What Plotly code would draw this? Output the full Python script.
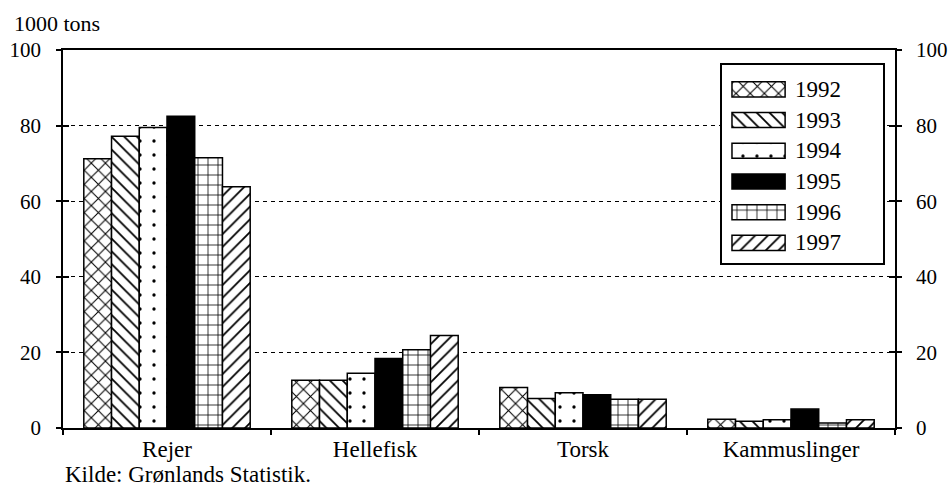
import plotly.graph_objects as go

# Landings by species, 1000 tons
categories = ["Rejer", "Hellefisk", "Torsk", "Kammuslinger"]
years = [1992, 1993, 1994, 1995, 1996, 1997]
values = {
    1992: [71.2, 12.6, 10.7, 2.3],
    1993: [77.2, 12.6, 7.8, 1.8],
    1994: [79.5, 14.5, 9.3, 2.2],
    1995: [82.5, 18.4, 8.8, 5.0],
    1996: [71.5, 20.7, 7.6, 1.3],
    1997: [63.8, 24.5, 7.6, 2.2],
}
y_ticks = [0, 20, 40, 60, 80, 100]

# Fill style per year: (fill colour, pattern shape, pattern size, solidity)
styles = {
    1992: ("white", "x", 10, 0.2),
    1993: ("white", "\\", 9, 0.2),
    1994: ("white", ".", 14, 0.045),
    1995: ("black", "", 8, 0.2),
    1996: ("white", "+", 10, 0.15),
    1997: ("white", "/", 9, 0.2),
}

FONT = "Liberation Serif, Times New Roman, serif"


def bar_marker(year):
    color, shape, size, solidity = styles[year]
    return dict(
        color=color,
        line=dict(color="black", width=1.5),
        pattern=dict(shape=shape, size=size, solidity=solidity,
                     fgcolor="black", bgcolor=color, fillmode="replace"),
    )


fig = go.Figure()

for yr in years:
    fig.add_trace(go.Bar(
        x=categories, y=values[yr], name=str(yr),
        marker=bar_marker(yr), showlegend=False,
    ))

# Transparent companions so the right-hand axis and the inner tick axis
# get their own overlaid subplots
for ax_id in ("y2", "y4"):
    fig.add_trace(go.Scatter(
        x=categories, y=values[years[0]], yaxis=ax_id, mode="markers",
        marker=dict(opacity=0), hoverinfo="skip", showlegend=False,
    ))

# Key: one swatch per year in a small boxed subplot
for yr in years:
    fig.add_trace(go.Bar(
        x=[1], y=[yr], orientation="h", base=0, width=0.49,
        offsetgroup="key", marker=bar_marker(yr),
        xaxis="x3", yaxis="y3", showlegend=False, hoverinfo="skip",
    ))

axis_font = dict(family=FONT, size=21, color="black")

fig.update_layout(
    width=951, height=486,
    margin=dict(l=63, r=56, t=50, b=58, autoexpand=False),
    paper_bgcolor="white", plot_bgcolor="white",
    barmode="group", bargap=0.2, bargroupgap=0,
    xaxis=dict(
        type="category", range=[-0.5, 3.5], automargin=False,
        showline=True, linecolor="black", linewidth=1.5, mirror=True,
        ticks="outside", tickson="boundaries", ticklen=5, tickcolor="black",
        tickwidth=1.5, tickfont=dict(family=FONT, size=23, color="black"),
        showgrid=False,
    ),
    yaxis=dict(
        range=[0, 100], tickvals=y_ticks, side="left", automargin=False,
        showline=True, linecolor="black", linewidth=1.5, mirror="ticks",
        ticks="outside", ticklen=5, tickcolor="black", tickwidth=1.5,
        tickfont=axis_font, ticklabelstandoff=11,
        showgrid=True, gridcolor="black", gridwidth=1, griddash="4px,4px",
        zeroline=False,
    ),
    yaxis2=dict(
        overlaying="y", side="right", anchor="x", automargin=False,
        range=[0, 100], tickvals=y_ticks,
        showline=True, linecolor="black", linewidth=1.5,
        ticks="inside", ticklen=6, tickcolor="black", tickwidth=1.5,
        tickfont=axis_font, ticklabelstandoff=15,
        showgrid=False, zeroline=False,
    ),
    yaxis4=dict(
        overlaying="y", side="left", anchor="x", automargin=False,
        range=[0, 100], tickvals=y_ticks,
        showline=False,
        ticks="inside", ticklen=6, tickcolor="black", tickwidth=1.5,
        showticklabels=False, showgrid=False, zeroline=False,
    ),
    xaxis3=dict(
        domain=[0.792, 0.986], anchor="y3", range=[-0.189, 2.849],
        showline=True, mirror=True, linecolor="black", linewidth=1.5,
        showticklabels=False, ticks="", showgrid=False, zeroline=False,
        fixedrange=True, automargin=False,
    ),
    yaxis3=dict(
        domain=[0.437, 0.960], anchor="x3", range=[1997.65, 1991.21],
        showline=True, mirror=True, linecolor="black", linewidth=1.5,
        showticklabels=False, ticks="", showgrid=False, zeroline=False,
        fixedrange=True, automargin=False,
    ),
)

annotations = [
    dict(text="1000 tons", xref="paper", yref="paper", x=-0.0613, y=1.0688,
         xanchor="left", yanchor="middle", showarrow=False,
         font=dict(family=FONT, size=22, color="black")),
    dict(text="Kilde: Grønlands Statistik.", xref="paper", yref="paper",
         x=0.0, y=-0.1217, xanchor="left", yanchor="middle", showarrow=False,
         font=dict(family=FONT, size=23, color="black")),
]
for yr in years:
    annotations.append(dict(
        text=str(yr), xref="x3", yref="y3", x=1, y=yr, xanchor="left",
        yanchor="middle", xshift=8, showarrow=False,
        font=dict(family=FONT, size=23, color="black"),
    ))
fig.update_layout(annotations=annotations)

fig.write_html("out.html")
